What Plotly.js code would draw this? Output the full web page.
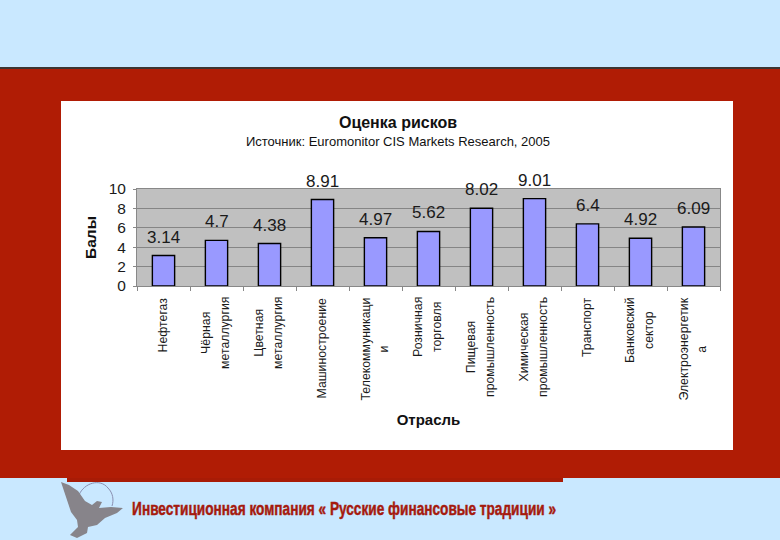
<!DOCTYPE html>
<html><head><meta charset="utf-8">
<script src="https://cdn.plot.ly/plotly-3.0.1.min.js"></script>
<style>html,body{margin:0;padding:0;background:#c9e8ff;overflow:hidden}</style>
</head><body><div id="chart" style="width:780px;height:540px"></div>
<script>
const categories = ["Нефтегаз","Чёрная<br>металлургия","Цветная<br>металлургия","Машиностроение","Телекоммуникаци<br>и","Розничная<br>торговля","Пищевая<br>промышленность","Химическая<br>промышленность","Транспорт","Банковский<br>сектор","Электроэнергетик<br>а"];
const riskScores = [3.14,4.7,4.38,8.91,4.97,5.62,8.02,9.01,6.4,4.92,6.09];
const yTicks = [0,2,4,6,8,10];
const chartTitle = "Оценка рисков";
const chartSource = "Источник: Euromonitor CIS Markets Research, 2005";
const yTitle = "Балы";
const xTitle = "Отрасль";
const footerText = "Инвестиционная компания « Русские финансовые традиции »";

const W = 780, H = 540;
const X = p => p / W, Y = p => 1 - p / H;
const FONT = '"Liberation Sans", Arial, sans-serif';
const rect = (x0, y0, x1, y1, color) => ({type:'rect', xref:'paper', yref:'paper', layer:'below',
  x0:X(x0), x1:X(x1), y0:Y(y0), y1:Y(y1), fillcolor:color, line:{width:0}});
const poly = pts => 'M' + pts.map(p => X(p[0]).toFixed(5) + ',' + Y(p[1]).toFixed(5)).join('L') + 'Z';
const birdOutline = [[61,482],[69,485],[78,491],[85,501],[92,505],[97,501],[102,502],[99,508],[111,507],[123,508],[117,513],[105,518],[97,525],[88,527],[87,533],[77,538],[70,535],[78,527],[77,520],[71,512],[66,497],[63,488]];
const ring = 'M' + X(79) + ',' + Y(495) + 'C' + X(84) + ',' + Y(483) + ' ' + X(100) + ',' + Y(478) + ' ' + X(108) + ',' + Y(488) + 'C' + X(113) + ',' + Y(493) + ' ' + X(114) + ',' + Y(500) + ' ' + X(112) + ',' + Y(506);

const shapes = [
  rect(0, 68, W, 478, '#b01c05'),
  rect(0, 67, W, 69, '#3c3532'),
  rect(67, 478, 563, 482, '#a81b06'),
  rect(61, 101, 733, 450, '#ffffff'),
  rect(137, 189, 720, 286, '#c0c0c0'),
  {type:'path', xref:'paper', yref:'paper', layer:'below', path:ring, line:{color:'#8a8fb0', width:1}, fillcolor:'rgba(0,0,0,0)'},
  {type:'path', xref:'paper', yref:'paper', layer:'below', path:poly(birdOutline), fillcolor:'#87848a', line:{width:0}}
];

const annotations = [];
riskScores.forEach((v, i) => annotations.push({
  x: categories[i], y: v, xref:'x', yref:'y', text: String(v), showarrow:false,
  yanchor:'middle', yshift:18.5, font:{family:FONT, size:17, color:'#1a1a1a'}
}));
categories.forEach(c => annotations.push({
  x: c, y: Y(295.5), xref:'x', yref:'paper', textangle:-90, yanchor:'top', xanchor:'center', xshift:-1,
  align:'center', showarrow:false,
  text: c.split('<br>').map(s => '<span style="font-size:12.3px">' + s + '</span>').join('<br>'),
  font:{family:FONT, size:14.6, color:'#1a1a1a'}
}));
annotations.push({x:X(344), y:Y(509), xref:'paper', yref:'paper', text:'<b>' + footerText + '</b>', showarrow:false,
  xanchor:'center', yanchor:'middle', font:{family:FONT, size:19, color:'#a51a0e'}});

const trace = {type:'bar', x:categories, y:riskScores, width:0.42,
  marker:{color:'#9999ff', line:{color:'#000000', width:1.4}}, hoverinfo:'x+y'};

const layout = {
  width:W, height:H, showlegend:false, autosize:false,
  margin:{l:0, r:0, t:0, b:0, pad:0},
  paper_bgcolor:'#c9e8ff',
  font:{family:FONT, color:'#1a1a1a'},
  title:{text:'<b><span style="font-size:16px">' + chartTitle + '</span></b><br><span style="font-size:13px">' + chartSource + '</span>',
    x:X(398), xanchor:'center', y:Y(127.5), yanchor:'middle', yref:'paper', font:{family:FONT, size:14.6, color:'#111'}},
  xaxis:{domain:[X(137), X(720)], type:'category', categoryorder:'array', categoryarray:categories,
    showticklabels:false, tickson:'boundaries', ticks:'outside', ticklen:4, tickcolor:'#888', showgrid:false,
    showline:true, linecolor:'#888', linewidth:1, mirror:true, zeroline:false,
    title:{text:'<b>' + xTitle + '</b>', standoff:128, font:{family:FONT, size:15, color:'#111'}}},
  yaxis:{domain:[Y(286), Y(189)], range:[0,10], tickmode:'array', tickvals:yTicks, ticktext:yTicks.map(String),
    ticks:'outside', ticklen:3, tickcolor:'#888', gridcolor:'#858585', gridwidth:1, zeroline:false,
    showline:true, linecolor:'#888', linewidth:1, mirror:true,
    tickfont:{family:FONT, size:15.5, color:'#1a1a1a'}, ticklabelstandoff:4,
    title:{text:'<b>' + yTitle + '</b>', standoff:8, font:{family:FONT, size:15.5, color:'#111'}}},
  shapes, annotations
};
Plotly.newPlot('chart', [trace], layout, {displayModeBar:false, staticPlot:true}).then(gd => {
  gd.querySelectorAll('.annotation-text').forEach(t => {
    if (t.textContent.indexOf('Инвестиционная') === 0) {
      t.setAttribute('textLength', '424');
      t.setAttribute('lengthAdjust', 'spacingAndGlyphs');
      t.style.stroke = '#a51a0e';
      t.style.strokeWidth = '0.5px';
    }
  });
});
</script></body></html>
